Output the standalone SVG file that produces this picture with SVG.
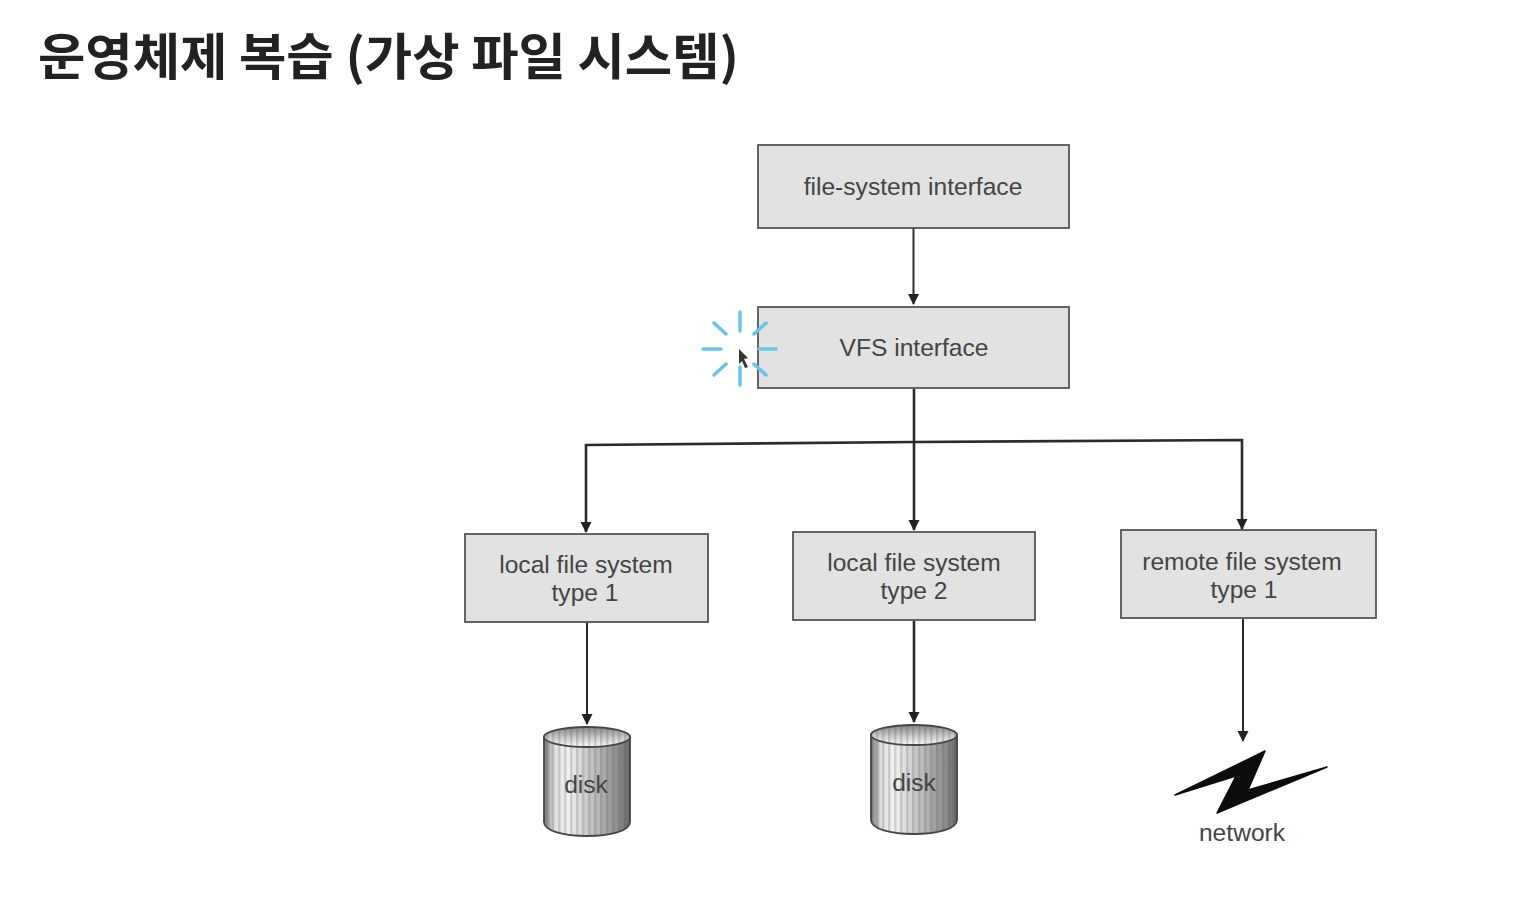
<svg xmlns="http://www.w3.org/2000/svg" width="1536" height="914" viewBox="0 0 1536 914">
<style>
.box{fill:#e2e2e2;stroke:#555;stroke-width:1.800}
.lbl{font-family:"Liberation Sans","Noto Sans",sans-serif;font-size:24.600px;fill:#444;text-anchor:middle}
.con{fill:none;stroke:#2b2b2b;stroke-width:2}
.trunk{fill:none;stroke:#2b2b2b;stroke-width:2.600}
.spark{stroke:#6cc3e8;stroke-width:3.500;stroke-linecap:round;fill:none}
.cyl{fill:url(#g);stroke:#444;stroke-width:1.800}
.stripes{fill:url(#s);stroke:none}
</style>
<defs>
<marker id="a" markerWidth="12" markerHeight="12" refX="10" refY="5.500" orient="auto" markerUnits="userSpaceOnUse"><path d="M0 0L11 5.500L0 11Z" fill="#222"/></marker>
<linearGradient id="g" x1="0" x2="1" y1="0" y2="0"><stop offset="0" stop-color="#777"/><stop offset=".12" stop-color="#e0e0e0"/><stop offset=".28" stop-color="#f2f2f2"/><stop offset=".6" stop-color="#bbb"/><stop offset=".88" stop-color="#8a8a8a"/><stop offset="1" stop-color="#666"/></linearGradient>
<linearGradient id="t" x1="0" x2="0" y1="0" y2="1"><stop offset="0" stop-color="#888"/><stop offset=".55" stop-color="#ccc"/><stop offset="1" stop-color="#fafafa"/></linearGradient>
<pattern id="s" width="6" height="10" patternUnits="userSpaceOnUse"><rect width="2.500" height="10" fill="#555" fill-opacity=".22"/></pattern>
</defs>
<rect width="1536" height="914" fill="#fff"/>
<text x="38" y="75" font-family="'Noto Sans CJK KR','Noto Sans',sans-serif" font-size="50" font-weight="700" fill="#222" textLength="701" lengthAdjust="spacingAndGlyphs">운영체제 복습 (가상 파일 시스템)</text>
<g id="connectors">
<path class="con" d="M913.500 228V304" marker-end="url(#a)"/>
<path class="trunk" d="M914 389V530" marker-end="url(#a)"/>
<path class="trunk" d="M914 442L1242 440V529" marker-end="url(#a)"/>
<path class="trunk" d="M914 442L586 445V532" marker-end="url(#a)"/>
<path class="con" d="M587 622V724" marker-end="url(#a)"/>
<path class="trunk" d="M914 621V722" marker-end="url(#a)"/>
<path class="con" d="M1243 619V741" marker-end="url(#a)"/>
</g>
<g id="fs-interface"><rect class="box" x="758" y="145" width="311" height="83"/><text class="lbl" x="913" y="195">file-system interface</text></g>
<g id="vfs-interface"><rect class="box" x="758" y="307" width="311" height="81"/><text class="lbl" x="914" y="356">VFS interface</text></g>
<g id="local1"><rect class="box" x="465" y="534" width="243" height="88"/><text class="lbl" x="586" y="573">local file system</text><text class="lbl" x="585" y="601">type 1</text></g>
<g id="local2"><rect class="box" x="793" y="532" width="242" height="88"/><text class="lbl" x="914" y="571">local file system</text><text class="lbl" x="914" y="599">type 2</text></g>
<g id="remote1"><rect class="box" x="1121" y="530" width="255" height="88"/><text class="lbl" x="1242" y="570">remote file system</text><text class="lbl" x="1244" y="598">type 1</text></g>
<g id="disk1"><path class="cyl" d="M544 737V822C544 831 564 836 587 836C610 836 630 831 630 822V737Z"/><path class="stripes" d="M544 737V822C544 831 564 836 587 836C610 836 630 831 630 822V737Z"/><ellipse cx="587" cy="737" rx="43" ry="10" fill="url(#t)" stroke="#444" stroke-width="1.800"/><ellipse class="stripes" cx="587" cy="737" rx="43" ry="10"/><text class="lbl" x="586" y="793">disk</text></g>
<g id="disk2"><path class="cyl" d="M871 735V820C871 829 891 834 914 834C937 834 957 829 957 820V735Z"/><path class="stripes" d="M871 735V820C871 829 891 834 914 834C937 834 957 829 957 820V735Z"/><ellipse cx="914" cy="735" rx="43" ry="10" fill="url(#t)" stroke="#444" stroke-width="1.800"/><ellipse class="stripes" cx="914" cy="735" rx="43" ry="10"/><text class="lbl" x="914" y="791">disk</text></g>
<g id="network"><path d="M1175 795L1265 751L1248 790L1327 767L1217 813L1236 776Z" fill="#0c0c0c" stroke="#0c0c0c" stroke-width="1.500" stroke-linejoin="round"/><text class="lbl" x="1242" y="841">network</text></g>
<g id="click"><path class="spark" d="M740 312V331M740 367V385M703 349H721M759 349H776M714 323L726 334M766 323L754 334M714 375L726 364M766 375L754 364"/><path d="M739 349L748 358L744 359L748 367L745 368L742 361L739 364Z" fill="#333"/></g>
</svg>
